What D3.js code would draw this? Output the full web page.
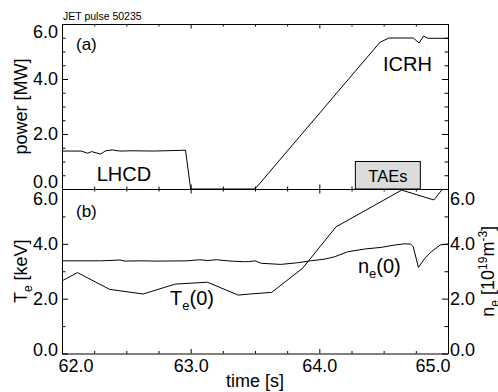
<!DOCTYPE html>
<html>
<head>
<meta charset="utf-8">
<script src="https://cdn.jsdelivr.net/npm/d3@7"></script>
<style>
  body { margin: 0; background: #fff; }
  svg { display: block; font-family: "Liberation Sans", Arial, Helvetica, sans-serif; }
  .axis path, .axis line { stroke: #000; }
</style>
</head>
<body>
<div id="plot"></div>
<script>
// time axis
const timeMajor = [62, 63, 64, 65];
const timeMinor = d3.range(62, 65.001, 0.25).filter(t => t % 1 !== 0);

// panel (a): heating power [MW]
const powerMajor = [0, 2, 4, 6];
const powerMinor = [0.5, 1, 1.5, 2.5, 3, 3.5, 4.5, 5, 5.5];
const lhcdPower = [[62.00,1.38],[62.15,1.38],[62.20,1.30],[62.23,1.36],[62.30,1.27],[62.34,1.39],
  [62.39,1.42],[62.45,1.38],[62.55,1.39],[62.71,1.38],[62.96,1.41],[63.00,0.0]];
const icrhPower = [[63.00,0],[63.50,0],[64.47,5.33],[64.54,5.49],[64.73,5.49],[64.775,5.31],
  [64.81,5.56],[64.845,5.48],[65.00,5.48]];
const taeWindow = [64.28, 64.785];
const taeHeight = 1.0;

// panel (b): central Te [keV] and ne [1e19 m^-3]
const profMajor = [0, 2, 4, 6];
const profMinor = [1, 3, 5];
const neCentral = [[62.00,3.38],[62.30,3.38],[62.45,3.41],[62.49,3.37],[62.61,3.38],[62.74,3.37],
  [62.97,3.38],[63.07,3.42],[63.13,3.39],[63.20,3.42],[63.31,3.37],[63.41,3.35],[63.45,3.35],
  [63.50,3.38],[63.55,3.29],[63.70,3.25],[63.83,3.31],[63.93,3.38],[64.04,3.44],[64.12,3.53],
  [64.22,3.71],[64.35,3.81],[64.48,3.87],[64.59,3.96],[64.66,4.00],[64.71,3.99],[64.73,3.89],
  [64.77,3.14],[64.82,3.47],[64.87,3.71],[64.94,3.96],[65.00,3.99]];
const teCentral = [[62.00,2.65],[62.12,2.95],[62.37,2.34],[62.63,2.17],[62.88,2.53],[63.13,2.60],
  [63.37,2.13],[63.46,2.17],[63.63,2.23],[63.87,3.11],[64.13,4.62],[64.64,5.96],[64.89,5.60],[65.00,6.25]];

window.addEventListener("load", main);

function main(){
  let [W, H] = [498, 392];
  let [left, right] = [62, 448];
  let topA = [24, 189], topB = [189, 353.5];

  let svg = d3.select('#plot').append('svg')
    .attr('width', W).attr('height', H);

  let x = d3.scaleLinear().domain([62, 65]).range([left, right]);
  let yA = d3.scaleLinear().domain([0, 6]).range([topA[1], topA[0]]);
  let yB = d3.scaleLinear().domain([0, 6]).range([topB[1], topB[0]]);
  let fmt = d3.format('.1f');

  // clip paths for data
  let defs = svg.append('defs');
  defs.append('clipPath').attr('id', 'clipA').append('rect')
    .attr('x', left).attr('y', topA[0]).attr('width', right - left).attr('height', topA[1] - topA[0]);
  defs.append('clipPath').attr('id', 'clipB').append('rect')
    .attr('x', left).attr('y', topB[0]).attr('width', right - left).attr('height', topB[1] - topB[0]);

  // draws a full box of inward ticks for a panel
  function frame(y, span, major, minor, leftLabels, rightLabels, bottomLabels, padTop, padBottom){
    let g = svg.append('g').attr('class', 'axis');
    let clampLabels = sel => sel.selectAll('text')
      .attr('font-size', 18)
      .attr('y', d => {
        let c = y(d);
        let cc = Math.max(span[0] + padTop, Math.min(span[1] - padBottom, c));
        return cc - c;
      });

    // left
    let l = g.append('g').attr('transform', `translate(${left},0)`)
      .call(d3.axisLeft(y).tickValues(major).tickSize(-6).tickSizeOuter(0).tickPadding(4)
        .tickFormat(leftLabels ? fmt : ''));
    clampLabels(l);
    g.append('g').attr('transform', `translate(${left},0)`)
      .call(d3.axisLeft(y).tickValues(minor).tickSize(-3.5).tickSizeOuter(0).tickFormat(''))
      .select('.domain').remove();
    // right
    let r = g.append('g').attr('transform', `translate(${right},0)`)
      .call(d3.axisRight(y).tickValues(major).tickSize(-6).tickSizeOuter(0).tickPadding(2)
        .tickFormat(rightLabels ? fmt : ''));
    clampLabels(r);
    g.append('g').attr('transform', `translate(${right},0)`)
      .call(d3.axisRight(y).tickValues(minor).tickSize(-3.5).tickSizeOuter(0).tickFormat(''))
      .select('.domain').remove();
    // top
    g.append('g').attr('transform', `translate(0,${span[0]})`)
      .call(d3.axisTop(x).tickValues(timeMajor).tickSize(-4.5).tickSizeOuter(0).tickFormat(''));
    g.append('g').attr('transform', `translate(0,${span[0]})`)
      .call(d3.axisTop(x).tickValues(timeMinor).tickSize(-2.5).tickSizeOuter(0).tickFormat(''))
      .select('.domain').remove();
    // bottom
    let b = g.append('g').attr('transform', `translate(0,${span[1]})`)
      .call(d3.axisBottom(x).tickValues(timeMajor).tickSize(-4.5).tickSizeOuter(0).tickPadding(6)
        .tickFormat(bottomLabels ? fmt : ''));
    b.selectAll('text').attr('font-size', 18)
      .attr('text-anchor', d => d === 62 ? 'start' : d === 65 ? 'end' : 'middle')
      .attr('x', d => d === 62 ? -4 : d === 65 ? 2 : 0);
    g.append('g').attr('transform', `translate(0,${span[1]})`)
      .call(d3.axisBottom(x).tickValues(timeMinor).tickSize(-2.5).tickSizeOuter(0).tickFormat(''))
      .select('.domain').remove();
    g.selectAll('text').attr('fill', '#000').attr('font-family', null);
  }

  frame(yA, topA, powerMajor, powerMinor, true, false, false, 7.7, 7.6);
  frame(yB, topB, profMajor, profMinor, true, true, true, 9.3, 3.5);

  // panel (a) data
  let lineA = d3.line().x(d => x(d[0])).y(d => yA(d[1]));
  let gA = svg.append('g').attr('clip-path', 'url(#clipA)');
  gA.append('rect')
    .attr('x', x(taeWindow[0])).attr('width', x(taeWindow[1]) - x(taeWindow[0]))
    .attr('y', yA(taeHeight)).attr('height', yA(0) - yA(taeHeight))
    .attr('fill', '#dcdcdc').attr('stroke', '#000').attr('stroke-width', 1);
  [lhcdPower, icrhPower].forEach(s => {
    gA.append('path').datum(s).attr('d', lineA)
      .attr('fill', 'none').attr('stroke', '#000').attr('stroke-width', 1);
  });

  // panel (b) data
  let lineB = d3.line().x(d => x(d[0])).y(d => yB(d[1]));
  let gB = svg.append('g').attr('clip-path', 'url(#clipB)');
  [neCentral, teCentral].forEach(s => {
    gB.append('path').datum(s).attr('d', lineB)
      .attr('fill', 'none').attr('stroke', '#000').attr('stroke-width', 1);
  });

  // annotations
  svg.append('text').attr('x', 63).attr('y', 19.5).attr('font-size', 10.5).text('JET pulse 50235');
  svg.append('text').attr('x', 76).attr('y', topA[0] + 25.5).attr('font-size', 17).text('(a)');
  svg.append('text').attr('x', 76).attr('y', topB[0] + 28).attr('font-size', 17).text('(b)');
  svg.append('text').attr('x', x(62.27)).attr('y', yA(0.29)).attr('font-size', 20).text('LHCD');
  svg.append('text').attr('x', x(64.495)).attr('y', yA(4.29)).attr('font-size', 20).text('ICRH');
  svg.append('text').attr('x', x((taeWindow[0] + taeWindow[1]) / 2)).attr('y', yA(0.27))
    .attr('text-anchor', 'middle').attr('font-size', 16.5).text('TAEs');

  let te = svg.append('text').attr('x', x(62.84)).attr('y', yB(1.77)).attr('font-size', 20);
  te.append('tspan').text('T');
  te.append('tspan').attr('dy', 5).attr('font-size', 13).text('e');
  te.append('tspan').attr('dy', -5).text('(0)');

  let ne = svg.append('text').attr('x', x(64.30)).attr('y', yB(2.92)).attr('font-size', 20);
  ne.append('tspan').text('n');
  ne.append('tspan').attr('dy', 5).attr('font-size', 13).text('e');
  ne.append('tspan').attr('dy', -5).text('(0)');

  // axis titles
  svg.append('text').attr('transform', `translate(27,${(topA[0] + topA[1]) / 2}) rotate(-90)`)
    .attr('text-anchor', 'middle').attr('font-size', 18).text('power [MW]');

  let tl = svg.append('text').attr('transform', `translate(27,${(topB[0] + topB[1]) / 2}) rotate(-90)`)
    .attr('text-anchor', 'middle').attr('font-size', 18);
  tl.append('tspan').text('T');
  tl.append('tspan').attr('dy', 5).attr('font-size', 12).text('e');
  tl.append('tspan').attr('dy', -5).text(' [keV]');

  let nl = svg.append('text').attr('transform', `translate(494,${(topB[0] + topB[1]) / 2}) rotate(-90)`)
    .attr('text-anchor', 'middle').attr('font-size', 18);
  nl.append('tspan').text('n');
  nl.append('tspan').attr('dy', 5).attr('font-size', 12).text('e');
  nl.append('tspan').attr('dy', -5).text(' [10');
  nl.append('tspan').attr('dy', -7).attr('font-size', 12).text('19');
  nl.append('tspan').attr('dy', 7).text('m');
  nl.append('tspan').attr('dy', -7).attr('font-size', 12).text('-3');
  nl.append('tspan').attr('dy', 7).text(']');

  svg.append('text').attr('x', (left + right) / 2).attr('y', 387)
    .attr('text-anchor', 'middle').attr('font-size', 18).text('time [s]');
}
</script>
</body>
</html>
